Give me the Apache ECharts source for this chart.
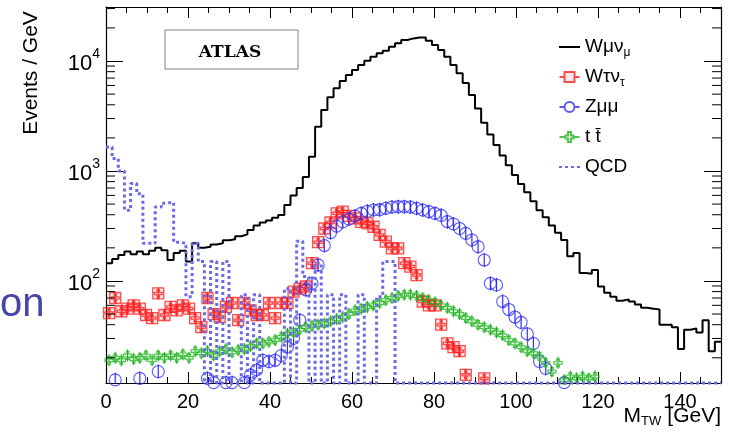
<!DOCTYPE html>
<html><head><meta charset="utf-8">
<script src="https://cdn.jsdelivr.net/npm/echarts@6/dist/echarts.min.js"></script>
<style>html,body{margin:0;padding:0;background:#fff}#c{width:729px;height:435px}</style>
</head><body><div id="c"></div>
<script>
// ---- data (bins of 1.5 GeV from 0 to 150) ----
const binWidth = 1.5;
const xTickLabels = [0, 20, 40, 60, 80, 100, 120, 140];
const yMajorTicks = [100, 1000, 10000];
const yMinorTicks = [20,30,40,50,60,70,80,90,200,300,400,500,600,700,800,900,2000,3000,4000,5000,6000,7000,8000,9000,20000,30000];

const wmunu = [145,158,172,185,175,185,175,188,200,190,
  155,180,188,150,220,200,205,215,220,235,
  240,255,265,290,320,340,355,375,398,490,
  600,700,880,1350,2530,3590,4680,5650,6580,7460,
  8280,9200,10060,10950,11750,12410,13500,14490,15520,16060,
  16400,16400,15300,13960,12590,10950,9200,7730,6300,4900,
  3700,2750,2150,1720,1380,1130,920,760,640,530,
  440,380,320,275,236,168,180,118,116,126,
  89,78,72,66,68,65,61,57,56,55,
  40,40,38,24,36,37,34,44,23,28];

const wtaunu = [51,70,53,56,60,56,49,46,77,49,
  58,54,60,56,46,38,70,50,47,58,
  63,44,63,54,49,49,63,46,63,63,
  80,85,89,145,225,300,340,412,427,390,
  371,345,334,311,262,228,198,198,145,135,
  113,65,60,60,40,27,25,23,14,null,
  null,13,null,null,null,null,null,null,null,null,
  null,null,null,null,null,null,null,null,null,null,
  null,null,null,null,null,null,null,null,null,null,
  null,null,null,null,null,null,null,null,null,null];

const zmumu = [null,12.6,null,null,null,13,null,null,15,null,
  null,null,null,null,null,null,13,11.9,null,11.9,
  11.9,null,11.9,14,15.5,19,18.5,19,21,25,
  30,44,83,95,140,210,275,315,345,365,
  390,412,430,442,445,458,470,474,474,470,
  458,442,427,412,395,346,330,300,271,236,
  205,155,95,92,65,55,47,42,33,27,
  18.5,16,null,null,11.9,null,null,null,null,null,
  null,null,null,null,null,null,null,null,null,null,
  null,null,null,null,null,null,null,null,null,null];

const ttbar = [19,20,19,21,19.5,20,21,19,21,20,
  21,20,21.5,20,23,22,23,21,23,24,
  22.5,23.5,24,25.5,27,27,28,29,31,33,
  34,36,38,39,40,41,43,45,47,50,
  54,56,58,60,63,67,70,73,75,75,
  73,70,67,64,60,57,53,50,46,43,
  40,38,36,34,32,29,27,25,23,22,
  20.5,18,15,18,12.5,13.5,13,13.5,13,13.5,
  null,null,null,null,null,null,null,null,null,null,
  null,null,null,null,null,null,null,null,null,null];

const qcd = [1650,1300,1000,440,770,620,220,220,470,510,
  520,225,220,72,220,150,0,150,0,150,
  0,0,75,0,75,0,0,0,0,85,
  0,230,110,0,145,0,75,0,75,0,
  0,75,0,0,72,150,150,0,0,0,
  0,0,0,0,0,0,0,0,0,0,
  0,0,0,0,0,0,0,0,0,0,
  0,0,0,0,0,0,0,0,0,0,
  0,0,0,0,0,0,0,0,0,0,
  0,0,0,0,0,0,0,0,0,0];

// ---- helpers ----
const X_MIN = 0, X_MAX = 150, Y_MIN = 11.8, Y_MAX = 31000;
const FONT = '"Liberation Sans", Arial, Helvetica, sans-serif';
function histSteps(arr) {
  const pts = arr.map((v, i) => [binWidth * i, v > 0 ? v : Y_MIN]);
  pts.push([binWidth * arr.length, arr[arr.length - 1] > 0 ? arr[arr.length - 1] : Y_MIN]);
  return pts;
}
function points(arr) {
  const out = [];
  arr.forEach((v, i) => { if (v != null && v > 0) out.push([binWidth * (i + 0.5), v]); });
  return out;
}
function errBars(arr, color, half) {
  return {
    type: 'custom', coordinateSystem: 'cartesian2d', clip: true, silent: true, z: 3,
    data: points(arr),
    renderItem: (params, api) => {
      const p = api.coord([api.value(0), api.value(1)]);
      return { type: 'line', shape: { x1: p[0], y1: p[1] - half, x2: p[0], y2: p[1] + half },
               style: { stroke: color, lineWidth: 1.2 } };
    }
  };
}

const RED = '#ff2020', BLUE = '#3030ff', GREEN = '#22b422', QCDC = '#6a6ae6';
const N_W = 'Wmunu', N_T = 'Wtaunu', N_Z = 'Zmumu', N_TT = 'ttbar', N_Q = 'QCD';
const legendLabels = {};
legendLabels[N_W] = '{n|Wμν}{s|μ}';
legendLabels[N_T] = '{n|Wτν}{s|τ}';
legendLabels[N_Z] = '{n|Zμμ}';
legendLabels[N_TT] = '{n|t\u00a0t\u0304}';
legendLabels[N_Q] = '{n|QCD}';

const tickStyle = { color: '#000', width: 1 };
const chart = echarts.init(document.getElementById('c'), null, { renderer: 'canvas' });
chart.setOption({
  animation: false,
  backgroundColor: '#fff',
  grid: { left: 106, right: 8, top: 7, bottom: 52, containLabel: false, outerBoundsMode: 'none' },
  xAxis: [
    { type: 'value', position: 'bottom', min: X_MIN, max: X_MAX, interval: 20,
      axisLine: { show: true, onZero: false, lineStyle: { color: '#000', width: 1.2 } },
      axisTick: { show: true, inside: true, length: 11, lineStyle: tickStyle },
      axisLabel: { show: true, margin: 9, fontSize: 20, fontFamily: FONT, color: '#000',
        formatter: v => xTickLabels.indexOf(v) >= 0 ? String(v) : '' },
      splitLine: { show: false } },
    { type: 'value', position: 'bottom', min: X_MIN, max: X_MAX, interval: 5,
      axisLine: { show: false, onZero: false }, axisLabel: { show: false }, splitLine: { show: false },
      axisTick: { show: true, inside: true, length: 6, lineStyle: tickStyle } },
    { type: 'value', position: 'top', min: X_MIN, max: X_MAX, interval: 20,
      axisLine: { show: true, onZero: false, lineStyle: { color: '#000', width: 1.2 } },
      axisLabel: { show: false }, splitLine: { show: false },
      axisTick: { show: true, inside: true, length: 11, lineStyle: tickStyle } },
    { type: 'value', position: 'top', min: X_MIN, max: X_MAX, interval: 5,
      axisLine: { show: false, onZero: false }, axisLabel: { show: false }, splitLine: { show: false },
      axisTick: { show: true, inside: true, length: 6, lineStyle: tickStyle } }
  ],
  yAxis: [
    { type: 'log', logBase: 10, position: 'left', min: Y_MIN, max: Y_MAX,
      axisLine: { show: true, onZero: false, lineStyle: { color: '#000', width: 1.2 } },
      axisTick: { show: true, inside: true, length: 17, lineStyle: tickStyle },
      splitLine: { show: false },
      axisLabel: { show: true, margin: 6,
        formatter: v => yMajorTicks.some(t => Math.abs(t - v) / t < 1e-6) ? '{b|10}{p|' + Math.round(Math.log10(v)) + '}' : '',
        rich: { b: { fontSize: 22, fontFamily: FONT, color: '#000', lineHeight: 28, padding: [6, 0, 0, 0] },
                p: { fontSize: 14, fontFamily: FONT, color: '#000', lineHeight: 14, verticalAlign: 'top' } } } },
    { type: 'log', logBase: 10, position: 'right', min: Y_MIN, max: Y_MAX,
      axisLine: { show: true, onZero: false, lineStyle: { color: '#000', width: 1.2 } },
      axisTick: { show: true, inside: true, length: 17, lineStyle: tickStyle },
      splitLine: { show: false }, axisLabel: { show: false } }
  ],
  legend: {
    orient: 'vertical', left: 553, top: 30, itemWidth: 21, itemHeight: 10, itemGap: 6,
    formatter: name => legendLabels[name],
    textStyle: { color: '#000', height: 24, lineHeight: 24, rich: {
      n: { fontSize: 19, fontFamily: FONT, color: '#000', lineHeight: 24, height: 24 },
      s: { fontSize: 12, fontFamily: FONT, color: '#000', lineHeight: 12, verticalAlign: 'bottom' } } },
    data: [
      { name: N_W, itemStyle: { opacity: 0 } },
      { name: N_T, icon: 'path://M0,5H5M15,5H20M5,0H15V10H5Z' },
      { name: N_Z, icon: 'path://M0,5H5M15,5H20M5,5A5,5,0,1,1,15,5A5,5,0,1,1,5,5Z' },
      { name: N_TT, icon: 'path://M0,5H6M14,5H20M8.5,0H11.5V3.5H14V6.5H11.5V10H8.5V6.5H6V3.5H8.5Z' },
      { name: N_Q, itemStyle: { opacity: 0 } }
    ]
  },
  graphic: [
    { type: 'rect', shape: { x: 165, y: 30, width: 133, height: 39 },
      style: { fill: '#fff', stroke: '#808080', lineWidth: 1 }, z: 10 },
    { type: 'text', x: 230, y: 53, z: 11,
      style: { text: 'ATLAS', font: 'bold 17px "DejaVu Serif", serif', fill: '#000', align: 'center', verticalAlign: 'middle' } },
    { type: 'text', x: 31, y: 73, rotation: Math.PI / 2, z: 11,
      style: { text: 'Events / GeV', font: '21px ' + FONT, fill: '#000', align: 'center', verticalAlign: 'middle' } },
    { type: 'text', x: 721, y: 404, z: 11,
      style: { text: '{m|M}{s|TW}{g|[GeV]}', align: 'right', verticalAlign: 'top', fill: '#000',
        rich: { m: { fontSize: 21, fontFamily: FONT, fill: '#000', lineHeight: 24 },
                g: { fontSize: 21, fontFamily: FONT, fill: '#000', lineHeight: 24, padding: [0, 0, 0, 6] },
                s: { fontSize: 13, fontFamily: FONT, fill: '#000', lineHeight: 12, verticalAlign: 'bottom' } } } },
    { type: 'text', x: 0, y: 325, z: 11,
      style: { text: 'on', font: '40px ' + FONT, fill: '#4646a8', align: 'left', verticalAlign: 'bottom' } }
  ],
  series: [
    { name: N_W, type: 'line', step: 'end', data: histSteps(wmunu), symbol: 'none', showSymbol: false,
      clip: false, lineStyle: { color: '#000', width: 2 }, itemStyle: { color: '#000' }, z: 2 },
    errBars(wtaunu, RED, 6),
    { name: N_T, type: 'scatter', data: points(wtaunu), z: 4,
      symbol: 'path://M0,0H10V10H0ZM4,1.5H6V4H8.5V6H6V8.5H4V6H1.5V4H4Z', symbolSize: 11,
      itemStyle: { color: 'rgba(255,32,32,0.12)', borderColor: RED, borderWidth: 1.3 } },
    errBars(zmumu, BLUE, 7),
    { name: N_Z, type: 'scatter', data: points(zmumu), z: 4, symbol: 'circle', symbolSize: 12,
      itemStyle: { color: 'rgba(0,0,0,0)', borderColor: BLUE, borderWidth: 1.1 } },
    errBars(ttbar, GREEN, 6),
    { name: N_TT, type: 'scatter', data: points(ttbar), z: 4,
      symbol: 'path://M3,0H6V3H9V6H6V9H3V6H0V3H3Z', symbolSize: 8,
      itemStyle: { color: 'rgba(0,0,0,0)', borderColor: GREEN, borderWidth: 1.2 } },
    { name: N_Q, type: 'line', step: 'end', data: histSteps(qcd), symbol: 'none', showSymbol: false,
      clip: false, lineStyle: { color: QCDC, width: 3, type: [3, 3] }, itemStyle: { color: QCDC }, z: 5 },
    { type: 'custom', coordinateSystem: 'cartesian2d', silent: true, clip: false, z: 6,
      data: yMinorTicks.map(v => [X_MIN, v]),
      renderItem: (params, api) => {
        const l = api.coord([X_MIN, api.value(1)]);
        const r = api.coord([X_MAX, api.value(1)]);
        return { type: 'group', children: [
          { type: 'line', shape: { x1: l[0], y1: l[1], x2: l[0] + 9, y2: l[1] }, style: { stroke: '#000', lineWidth: 1 } },
          { type: 'line', shape: { x1: r[0] - 9, y1: r[1], x2: r[0], y2: r[1] }, style: { stroke: '#000', lineWidth: 1 } }
        ] };
      } }
  ]
});
</script>
</body></html>
